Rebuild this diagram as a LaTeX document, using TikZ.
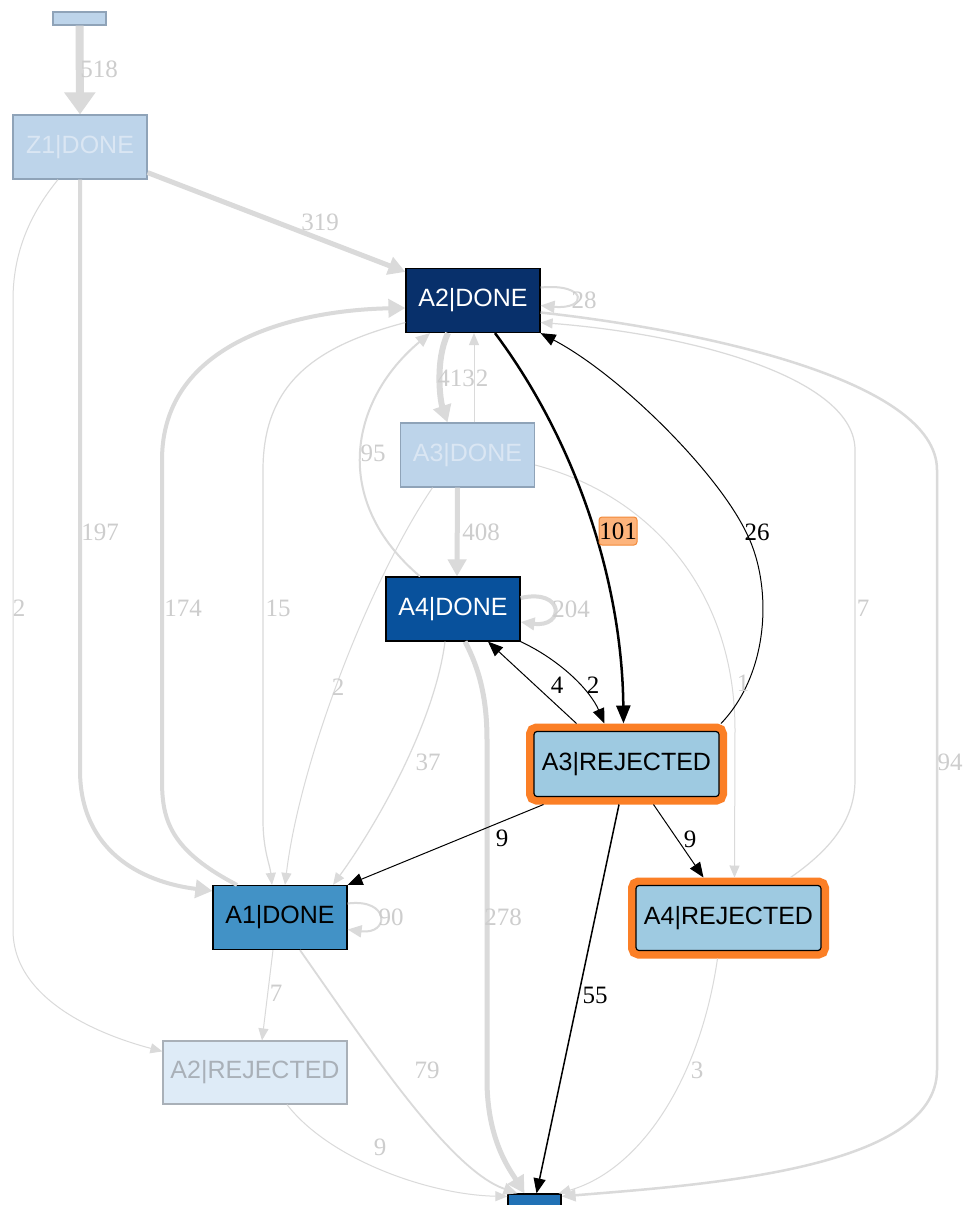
\documentclass[tikz,border=0pt]{standalone}
\usepackage{fontspec}
\setmainfont{Liberation Serif}
\setsansfont{Liberation Sans}
\usetikzlibrary{arrows.meta}

\definecolor{edgegray}{HTML}{DADADA}
\definecolor{labgray}{HTML}{CDCDCD}
\definecolor{fadefill}{HTML}{BDD4EA}
\definecolor{fadedraw}{HTML}{8FA3B8}
\definecolor{fadetext}{HTML}{DAE6F3}
\definecolor{navy}{HTML}{08306B}
\definecolor{midblue}{HTML}{08519C}
\definecolor{a1blue}{HTML}{4292C6}
\definecolor{rejblue}{HTML}{9ECAE1}
\definecolor{paleblue}{HTML}{DEEBF7}
\definecolor{palegray}{HTML}{A9B0B8}
\definecolor{sinkblue}{HTML}{2171B5}
\definecolor{hlorange}{HTML}{FB7F26}
\definecolor{tagfill}{HTML}{FDB47C}
\definecolor{tagdraw}{HTML}{F28A3A}

\tikzset{
  stnode/.style={rectangle, draw=black, line width=1.2pt, minimum width=134pt,
    minimum height=64pt, inner sep=0pt, font=\sffamily\fontsize{25}{29}\selectfont},
  faded/.style={stnode, fill=fadefill, draw=fadedraw, text=fadetext},
  hilite/.style={stnode, fill=rejblue, minimum width=185pt, minimum height=65pt,
    rounded corners=3pt, outer sep=8pt, preaction={draw=hlorange, line width=16pt}},
  gedge/.style={draw=edgegray, line width=1pt},
  bedge/.style={draw=black, line width=1pt},
  tipS/.style={-{Triangle[length=12pt,width=10pt]}},
  tipM/.style={-{Triangle[length=14pt,width=12pt]}},
  tipL/.style={-{Triangle[length=17pt,width=18pt]}},
  tipB/.style={-{Triangle[length=15pt,width=12pt]}},
  tipBB/.style={-{Triangle[length=18pt,width=14pt]}},
  glab/.style={text=labgray, inner sep=0pt, font=\fontsize{25}{28}\selectfont},
  blab/.style={text=black, inner sep=0pt, font=\fontsize{25}{28}\selectfont},
}

\begin{document}
\begin{tikzpicture}[x=1pt, y=-1pt]
\fill[white] (0,0) rectangle (965,1205);
\useasboundingbox (0,0) rectangle (965,1205);

% states
\node[faded, minimum width=53pt, minimum height=13pt] (src) at (79.5,18.5) {};
\node[faded] (z1) at (80,147) {Z1|DONE};
\node[stnode, fill=navy, text=white] (a2) at (473,300.5) {A2|DONE};
\node[faded] (a3) at (467.5,455) {A3|DONE};
\node[stnode, fill=midblue, text=white] (a4) at (453,609) {A4|DONE};
\node[hilite] (a3r) at (626.5,764) {A3|REJECTED};
\node[hilite] (a4r) at (728.5,918) {A4|REJECTED};
\node[stnode, fill=a1blue, text=black] (a1) at (280,917.5) {A1|DONE};
\node[stnode, fill=paleblue, draw=palegray, text=palegray, minimum width=184pt, minimum height=63pt] (a2r) at (255,1072.5) {A2|REJECTED};
\node[stnode, fill=sinkblue, minimum width=53pt, minimum height=26pt] (sink) at (534.5,1207) {};

% frequent (gray) transitions
\draw[gedge, line width=8pt, -{Triangle[length=22pt,width=30pt]}] (src.south) -- (z1.north);
\draw[gedge, line width=5pt, tipL] ([yshift=7pt]z1.south east) -- ([yshift=-4pt]a2.north west);
\draw[gedge, line width=4pt, tipL] (z1.south) -- (80,770) .. controls (80,850) and (140,882) .. ([yshift=-6pt]a1.north west);
\draw[gedge, tipS] ([xshift=-22pt]z1.south) .. controls (25,220) and (13,260) .. (13,300) -- (13,930) .. controls (13,1000) and (100,1035) .. ([yshift=-11pt]a2r.north west);
\draw[gedge, line width=4pt, tipL] ([xshift=-43pt]a1.north) .. controls (170,850) and (162,820) .. (162,780) -- (162,460) .. controls (162,340) and (300,310) .. ([yshift=-7.5pt]a2.west);
\draw[gedge, line width=1.2pt, tipS] ([yshift=-22pt]a2.west) .. controls (320,345) and (263,380) .. (263,470) -- (263,820) .. controls (263,850) and (270,865) .. ([xshift=-8pt]a1.north);
\draw[gedge, line width=6pt, tipL] ([xshift=-25pt]a2.south) .. controls (435,360) and (440,400) .. ([xshift=-20pt]a3.north);
\draw[gedge, tipS] ([xshift=6.5pt]a3.north) -- ([xshift=1pt]a2.south);
\draw[gedge, line width=2pt, tipM] ([xshift=-33pt]a4.north) .. controls (330,500) and (350,400) .. ([xshift=-43pt]a2.south);
\draw[gedge, line width=5pt, tipL] ([xshift=-10pt]a3.south) -- ([xshift=4pt]a4.north);
\draw[gedge, line width=4pt, tipM] ([yshift=11pt]a4.east) .. controls (565,588) and (565,628) .. ([yshift=-13pt]a4.east);
\draw[gedge, line width=2pt, tipM] ([yshift=13pt]a2.east) .. controls (588,283) and (588,310) .. ([yshift=-5pt]a2.east);
\draw[gedge, line width=2pt, tipM] ([yshift=14pt]a1.east) .. controls (390,898) and (390,935) .. ([yshift=-12pt]a1.east);
\draw[gedge, line width=5pt, tipL] ([xshift=12pt]a4.south) .. controls (480,670) and (487,700) .. (487,740) -- (487,1080) .. controls (487,1140) and (510,1170) .. ([xshift=-10pt]sink.north);
\draw[gedge, line width=1.2pt, tipS] ([xshift=-8pt]a4.south) .. controls (435,720) and (380,820) .. ([xshift=53pt]a1.north);
\draw[gedge, tipS] ([xshift=-35pt]a3.south) .. controls (370,580) and (300,760) .. ([xshift=5pt]a1.north);
\draw[gedge, tipS] ([xshift=-7pt]a1.south) -- ([xshift=7pt]a2r.north);
\draw[gedge, line width=1.8pt, tipM] ([xshift=20pt]a1.south) .. controls (370,1050) and (450,1170) .. ([xshift=-17pt]sink.north);
\draw[gedge, tipS] ([xshift=32pt]a2r.south) .. controls (330,1160) and (430,1195) .. ([yshift=-3pt]sink.north west);
\draw[gedge, tipS] ([xshift=-11pt]a4r.south) .. controls (700,1080) and (640,1170) .. ([xshift=-3pt]sink.north east);
\draw[gedge, line width=2.5pt, tipM] ([yshift=-12pt]a2.east) .. controls (700,330) and (937,380) .. (937,470) -- (937,1070) .. controls (937,1170) and (700,1185) .. ([yshift=-3pt]sink.north east);
\draw[gedge, tipS] ([yshift=-10pt]a3.east) .. controls (650,495) and (735,590) .. (735,730) -- ([xshift=6pt]a4r.north);
\draw[gedge, line width=1.2pt, tipS] ([xshift=62pt]a4r.north) .. controls (830,850) and (855,820) .. (855,780) -- (855,450) .. controls (855,380) and (700,335) .. ([yshift=-22pt]a2.east);

% highlighted (black) transitions
\draw[bedge, line width=2.5pt, tipBB] ([xshift=22pt]a2.south) .. controls (575,440) and (622,580) .. ([xshift=-3pt]a3r.north);
\draw[bedge, tipB] ([xshift=-6pt]a3r.north east) .. controls (772,670) and (772,580) .. (745,530) .. controls (715,470) and (620,375) .. (a2.south east);
\draw[bedge, tipB] (a4.south east) .. controls (560,660) and (590,690) .. ([xshift=-22pt]a3r.north);
\draw[bedge, tipB] ([xshift=-50pt]a3r.north) -- ([xshift=35pt]a4.south);
\draw[bedge, tipB] ([xshift=-83pt]a3r.south) -- (a1.north east);
\draw[bedge, tipB] ([xshift=27pt]a3r.south) -- ([xshift=-25pt]a4r.north);
\draw[bedge, line width=1.5pt, tipB] ([xshift=-7.5pt]a3r.south) -- ([xshift=2pt]sink.north);

% transition counts
\node[glab] (t518) at (99,69) {518};
\node[glab] (t319) at (320,222) {319};
\node[glab] (t197) at (100,532) {197};
\node[glab] (t2z) at (19,608) {2};
\node[glab] (t174) at (183,608) {174};
\node[glab] (t15) at (278,608) {15};
\node[glab] (t2c) at (338,687) {2};
\node[glab] (t413) at (456,378) {413};
\node[glab] (t2up) at (482,378) {2};
\node[glab] (t95) at (373,453) {95};
\node[glab] (t408) at (481,532) {408};
\node[glab] (t204) at (571,609) {204};
\node[glab] (t28) at (584,300) {28};
\node[glab] (t1) at (743,683) {1};
\node[glab] (t7b) at (863,608) {7};
\node[glab] (t94) at (950,762) {94};
\node[glab] (t37) at (428,762) {37};
\node[glab] (t278) at (503,917) {278};
\node[glab] (t90) at (391,917) {90};
\node[glab] (t7a) at (276,993) {7};
\node[glab] (t79) at (427,1070) {79};
\node[glab] (t3) at (697,1070) {3};
\node[glab] (t9c) at (380,1147) {9};
\node[blab, draw=tagdraw, fill=tagfill, line width=1pt, rounded corners=3pt, minimum width=38pt, minimum height=28pt] (t101) at (618,531) {101};
\node[blab] (t26) at (757,532) {26};
\node[blab] (t2b) at (593,685) {2};
\node[blab] (t4) at (557,685) {4};
\node[blab] (t9a) at (502,838) {9};
\node[blab] (t9b) at (690,839) {9};
\node[blab] (t55) at (595,995) {55};
\end{tikzpicture}
\end{document}
